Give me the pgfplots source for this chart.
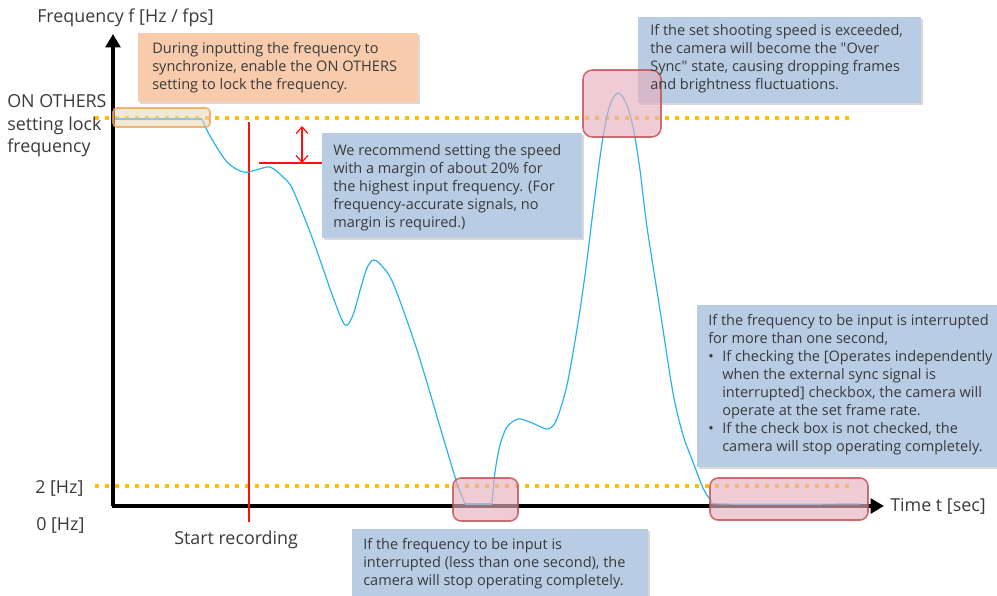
\documentclass[border=0pt]{standalone}
\usepackage{pgfplots}
\pgfplotsset{compat=1.18}
\usepackage{fontspec}
\setmainfont{Open Sans}[Ligatures=TeXOff]
\usetikzlibrary{arrows.meta,shadows}
\definecolor{curve}{RGB}{40,180,235}
\definecolor{txt}{HTML}{3A3A3A}
\definecolor{peach}{HTML}{F8CBAD}
\definecolor{bluebox}{HTML}{B8CCE4}
\definecolor{pinkfill}{HTML}{E6B0BF}
\definecolor{pinkline}{HTML}{C0504D}
\definecolor{gold}{HTML}{FFC000}
\definecolor{lockfill}{HTML}{E9D6B4}
\definecolor{lockline}{HTML}{F0A050}
\definecolor{marker}{HTML}{FF1010}
\begin{document}
\begin{tikzpicture}[
  box/.style={drop shadow={shadow xshift=1.2pt, shadow yshift=-1.2pt, opacity=0.3}},
  body/.style={font=\fontsize{10.9}{13.5}\selectfont, align=left, inner sep=0pt, text=txt},
  lbl/.style={font=\fontsize{13.4}{17}\selectfont, align=left, inner sep=0pt, text=txt},
]
\begin{axis}[
  width=747.75pt, height=447pt, scale only axis,
  xmin=0, xmax=997, ymin=0, ymax=596, y dir=reverse,
  hide axis, clip=false,
]
% annotation boxes behind the curve
\fill[peach, box] (axis cs:138,33) rectangle (axis cs:418,102);
\fill[bluebox, box] (axis cs:322,133) rectangle (axis cs:582,238);
\fill[bluebox, box] (axis cs:638,17) rectangle (axis cs:921,103);
\fill[bluebox, box] (axis cs:697,305) rectangle (axis cs:1000,467);
\fill[bluebox, box] (axis cs:352,529) rectangle (axis cs:648,610);

% threshold lines
\addplot[gold, line width=3pt, dash pattern=on 3pt off 4.5pt] coordinates {(95,118) (855,118)};
\addplot[gold, line width=3pt, dash pattern=on 3pt off 4.5pt] coordinates {(95,486) (855,486)};

% axes
\draw[line width=3pt, -{Triangle[length=10pt,width=11pt]}] (axis cs:113,506) -- (axis cs:113,34);
\draw[line width=3pt, -{Triangle[length=10pt,width=11pt]}] (axis cs:111.5,506) -- (axis cs:884,506);

% start recording and margin markers
\draw[marker, line width=1pt] (axis cs:249,122) -- (axis cs:249,522);
\draw[marker, line width=1pt] (axis cs:259,163) -- (axis cs:322,163);
\draw[marker, line width=0.9pt, {Straight Barb[length=5pt,width=9pt]}-{Straight Barb[length=5pt,width=9pt]}] (axis cs:302,126) -- (axis cs:302,163);

% frequency curve
\addplot[curve, line width=0.9pt] coordinates {(115,119) (202,119)};
\addplot[curve, line width=0.9pt, smooth] coordinates {
  (202,119) (210,136) (227,162) (243,172) (256,170) (270,167) (283,177)
  (293,190) (313,240) (333,297) (345,325) (353,315) (361,287) (367,268)
  (373,260) (380,264) (393,283) (417,350) (443,437) (457,483) (465,504)};
\addplot[curve, line width=0.9pt] coordinates {(465,504) (492,504)};
\addplot[curve, line width=0.9pt, smooth] coordinates {
  (492,504) (495,472) (500,445) (507,427) (518,419) (530,422) (547,429)
  (555,423) (561,407) (567,385) (573,353) (580,310) (587,260) (595,195)
  (603,137) (610,105) (618,93) (626,103) (633,127) (640,170) (647,227)
  (660,310) (673,393) (683,435) (693,462) (703,488) (711,500) (722,504)
  (860,504)};

% highlight boxes
\draw[lockline, line width=1.2pt, fill=lockfill, fill opacity=0.55, draw opacity=0.8, rounded corners=3pt] (axis cs:113,108) rectangle (axis cs:210,127);
\draw[pinkline, line width=1.2pt, fill=pinkfill, fill opacity=0.65, draw opacity=0.8, rounded corners=7pt] (axis cs:583,70) rectangle (axis cs:661,137);
\draw[pinkline, line width=1.2pt, fill=pinkfill, fill opacity=0.65, draw opacity=0.8, rounded corners=6pt] (axis cs:453,478) rectangle (axis cs:518,521);
\draw[pinkline, line width=1.2pt, fill=pinkfill, fill opacity=0.65, draw opacity=0.8, rounded corners=6pt] (axis cs:710,478) rectangle (axis cs:868,520);

% texts
\node[lbl, anchor=west] at (axis cs:37,18) {Frequency f [Hz / fps]};
\node[lbl, anchor=west] at (axis cs:7,126) {ON OTHERS\\setting lock\\frequency};
\node[lbl, anchor=west] at (axis cs:35,488) {2 [Hz]};
\node[lbl, anchor=west] at (axis cs:36,525) {0 [Hz]};
\node[lbl, anchor=west] at (axis cs:174,540) {Start recording};
\node[lbl, anchor=west] at (axis cs:890,506) {Time t [sec]};

\node[body, anchor=west] at (axis cs:152,68) {During inputting the frequency to\\synchronize, enable the ON OTHERS\\setting to lock the frequency.};
\node[body, anchor=west] at (axis cs:333,187.5) {We recommend setting the speed\\with a margin of about 20\% for\\the highest input frequency. (For\\frequency-accurate signals, no\\margin is required.)};
\node[body, anchor=west] at (axis cs:650,59) {If the set shooting speed is exceeded,\\the camera will become the "Over\\Sync" state, causing dropping frames\\and brightness fluctuations.};
\node[body, anchor=west] at (axis cs:708,385) {If the frequency to be input is interrupted\\for more than one second,\\\makebox[10.5pt][l]{•}If checking the [Operates independently\\\hspace*{10.5pt}when the external sync signal is\\\hspace*{10.5pt}interrupted] checkbox, the camera will\\\hspace*{10.5pt}operate at the set frame rate.\\\makebox[10.5pt][l]{•}If the check box is not checked, the\\\hspace*{10.5pt}camera will stop operating completely.};
\node[body, anchor=west] at (axis cs:363,564) {If the frequency to be input is\\interrupted (less than one second), the\\camera will stop operating completely.};
\end{axis}
\pgfresetboundingbox
\path (current axis.south west) rectangle (current axis.north east);
\end{tikzpicture}
\end{document}
